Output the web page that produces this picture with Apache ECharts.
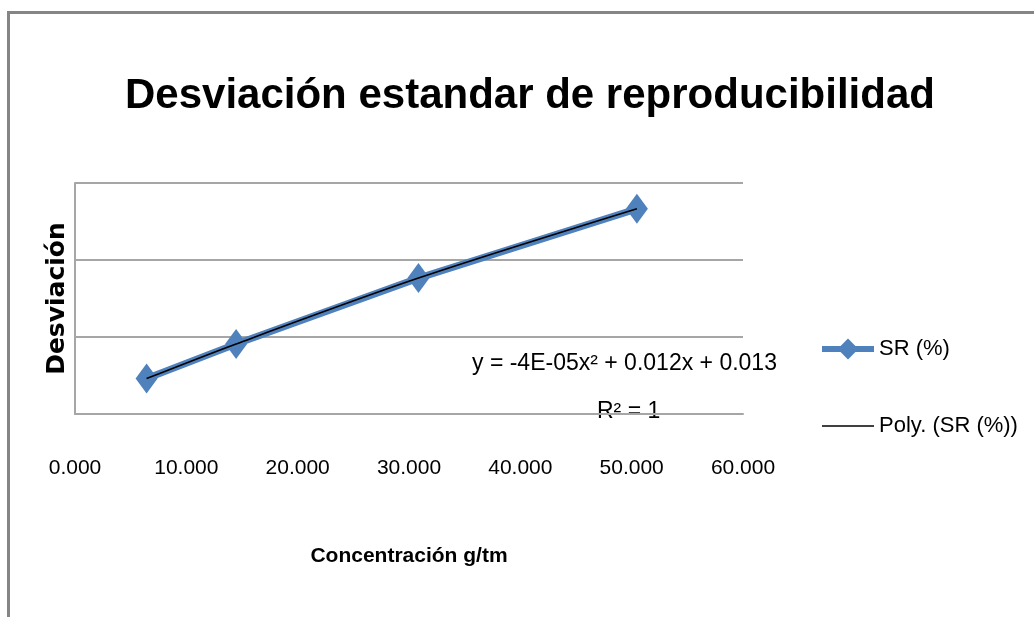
<!DOCTYPE html>
<html>
<head>
<meta charset="utf-8">
<script src="https://cdn.jsdelivr.net/npm/echarts@6/dist/echarts.min.js"></script>
<style>
  html, body { margin: 0; padding: 0; background: #fff; }
  #main { width: 1034px; height: 617px; }
</style>
</head>
<body>
<div id="main"></div>
<script>
// concentración (g/tm) y desviación SR (%)
const concentracion = [6.43, 14.47, 30.85, 50.47];
const srPct = [0.092, 0.182, 0.353, 0.533];
const xTicks = { min: 0, max: 60, interval: 10 };
const yTicks = { min: 0, max: 0.6, interval: 0.2 };

const sans = '"Liberation Sans", Arial, sans-serif';
const pairs = concentracion.map((c, i) => [c, srPct[i]]);

const chart = echarts.init(document.getElementById('main'));

chart.setOption({
  animation: false,
  title: {
    text: 'Desviación estandar de reproducibilidad',
    left: 120,
    top: 70,
    textStyle: {
      fontFamily: sans,
      fontWeight: 'bold',
      fontSize: 42,
      color: '#000',
    },
  },
  grid: {
    left: 75,
    right: 291,
    top: 183,
    bottom: 203,
  },
  legend: {
    orient: 'vertical',
    left: 819,
    top: 338,
    padding: 0,
    itemGap: 55,
    itemWidth: 52,
    itemHeight: 26,
    textStyle: {
      fontFamily: sans,
      fontSize: 22,
      color: '#000',
    },
    data: [
      { name: 'SR (%)', lineStyle: { width: 6 } },
      {
        name: 'Poly. (SR (%))',
        lineStyle: { width: 1.5 },
        itemStyle: { color: 'rgba(0,0,0,0)', borderWidth: 0 },
      },
    ],
  },
  xAxis: {
    type: 'value',
    min: xTicks.min,
    max: xTicks.max,
    interval: xTicks.interval,
    name: 'Concentración g/tm',
    nameLocation: 'middle',
    nameGap: 132,
    nameTextStyle: {
      fontFamily: sans,
      fontWeight: 'bold',
      fontSize: 21,
      color: '#000',
    },
    axisLine: { show: true, lineStyle: { color: '#a6a6a6', width: 2 } },
    axisTick: { show: false },
    splitLine: { show: false },
    axisLabel: {
      margin: 44,
      fontFamily: sans,
      fontSize: 21,
      color: '#000',
      formatter: (v) => v.toFixed(3),
    },
  },
  yAxis: {
    type: 'value',
    min: yTicks.min,
    max: yTicks.max,
    interval: yTicks.interval,
    name: 'Desviación',
    nameLocation: 'middle',
    nameGap: 5,
    nameTextStyle: {
      fontFamily: '"DejaVu Sans", sans-serif',
      fontWeight: 'bold',
      fontSize: 25,
      color: '#000',
    },
    axisLine: { show: true, lineStyle: { color: '#a6a6a6', width: 2 } },
    axisTick: { show: false },
    axisLabel: { show: false },
    splitLine: { show: true, lineStyle: { color: '#a6a6a6', width: 2 } },
  },
  series: [
    {
      name: 'SR (%)',
      type: 'line',
      data: pairs,
      symbol: 'diamond',
      symbolSize: [22, 30],
      lineStyle: { color: '#4f81bd', width: 7 },
      itemStyle: { color: '#4f81bd' },
      z: 2,
    },
    {
      name: 'Poly. (SR (%))',
      type: 'line',
      data: pairs,
      smooth: 0.3,
      symbol: 'none',
      lineStyle: { color: '#000', width: 1.6 },
      itemStyle: { color: '#000' },
      z: 3,
    },
  ],
  graphic: [
    {
      type: 'rect',
      shape: { x: 8.5, y: 12.5, width: 1100, height: 700 },
      style: { fill: 'none', stroke: '#858585', lineWidth: 3 },
      silent: true,
    },
    {
      type: 'text',
      left: 472,
      top: 352,
      style: {
        text: 'y = -4E-05x² + 0.012x + 0.013',
        font: '23px "Liberation Sans", Arial, sans-serif',
        fill: '#000',
      },
    },
    {
      type: 'text',
      left: 597,
      top: 400,
      style: {
        text: 'R² = 1',
        font: '23px "Liberation Sans", Arial, sans-serif',
        fill: '#000',
      },
    },
  ],
});
</script>
</body>
</html>
